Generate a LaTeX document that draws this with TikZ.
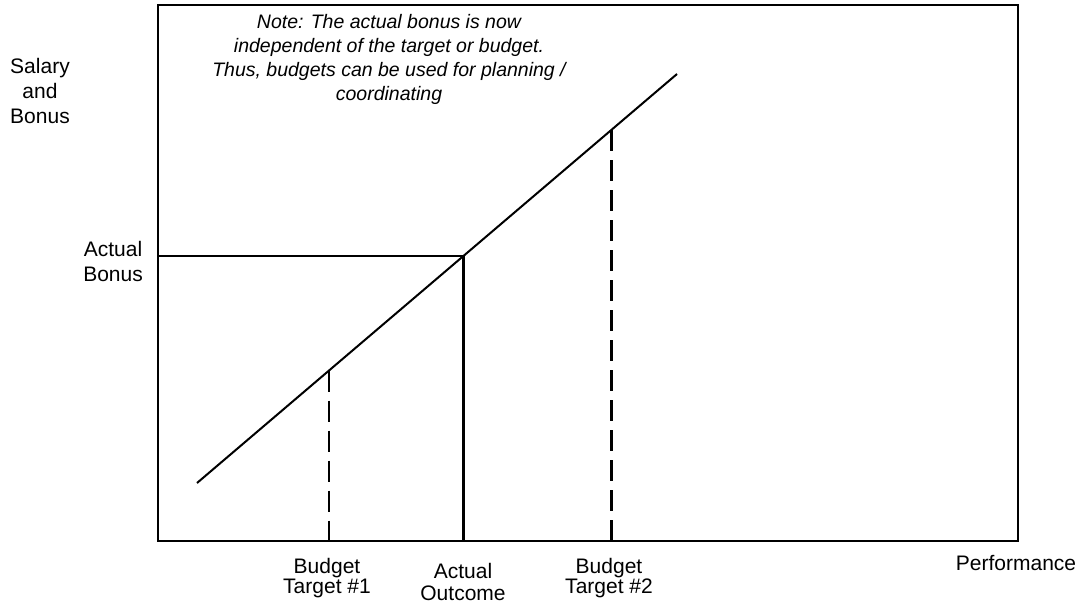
\documentclass[tikz,border=0pt]{standalone}
\usepackage{fontspec}
\setmainfont{Liberation Sans}
\usepackage{tikz}

\begin{document}
\begin{tikzpicture}
	[x=1pt,y=-1pt,
	lbl/.style={align=center,inner sep=0pt,font=\fontsize{21}{25}\selectfont},
	note/.style={align=center,inner sep=0pt,font=\fontsize{19.5}{24}\selectfont\itshape},
	drop/.style={dash pattern=on 21pt off 9pt}]
	\useasboundingbox (0,0) rectangle (1083,608);
	\coordinate (tl) at (158,5);
	\coordinate (br) at (1018,541);
	\draw[line width=2pt] (tl) rectangle (br);
	% pay line and its points
	\coordinate (lo) at (197,483);
	\coordinate (hi) at (677,74);
	\coordinate (t1) at (329,370.5);
	\coordinate (ao) at (463,256);
	\coordinate (t2) at (611,130);
	\coordinate (t1b) at (329,541);
	\coordinate (aob) at (463,541);
	\coordinate (t2b) at (611,541);
	\coordinate (ab) at (158,256);
	\path (lo) edge[-,line width=2pt] (hi);
	\path (ab) edge[-,line width=1.4pt] (ao);
	\path (ao) edge[-,line width=3pt] (aob);
	\path[drop] (t1) edge[-,line width=1.5pt] (t1b);
	\path[drop] (t2) edge[-,line width=3pt] (t2b);
	% labels
	\node[lbl] (sal) at (40,91) {Salary\\and\\Bonus};
	\node[lbl,anchor=east] (abl) at (143,261) {Actual\\Bonus};
	\node[lbl] (perf) at (1016,563) {Performance};
	\node[lbl,font=\fontsize{21}{20.5}\selectfont] (bt1) at (327,578) {Budget\\Target \#1};
	\node[lbl,font=\fontsize{21}{22}\selectfont] (out) at (463,582) {Actual\\Outcome};
	\node[lbl,font=\fontsize{21}{20.5}\selectfont] (bt2) at (609,578) {Budget\\Target \#2};
	\node[note] (nt) at (389,59) {Note: The actual bonus is now\\independent of the target or budget.\\Thus, budgets can be used for planning /\\coordinating};
\end{tikzpicture}
\end{document}
